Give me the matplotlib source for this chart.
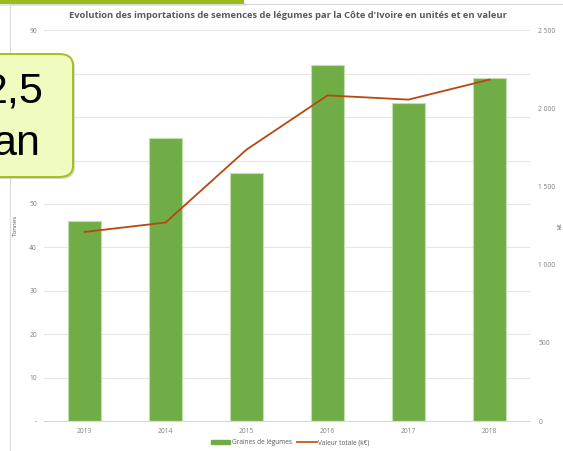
import matplotlib.pyplot as plt
import numpy as np
from matplotlib.patches import FancyBboxPatch, Rectangle
from matplotlib.lines import Line2D

# data
years = ['2013', '2014', '2015', '2016', '2017', '2018']
tonnes = [46.0, 65.1, 57.1, 82.1, 73.2, 79.1]
valeur = [1210, 1270, 1737, 2084, 2057, 2185]
left_ticks = [0, 10, 20, 30, 40, 50, 60, 70, 80, 90]
left_labels = ['-', '10', '20', '30', '40', '50', '60', '70', '80', '90']
right_ticks = [0, 500, 1000, 1500, 2000, 2500]
right_labels = ['0', '500', '1 000', '1 500', '2 000', '2 500']

W, H = 563, 451
fig = plt.figure(figsize=(W / 100, H / 100), dpi=100)
plt.rcParams['font.family'] = ['Open Sans', 'DejaVu Sans']

grey_txt = '#7f7f7f'
grid_c = '#e6e6e6'

ax = fig.add_axes([44 / W, 1 - 421 / H, 486 / W, (421 - 30.4) / H])
x = np.arange(len(years))
ax.bar(x, tonnes, width=0.4, color='#70ad47', edgecolor='#c2e0ad', linewidth=0.8, zorder=2)
ax.set_xlim(-0.5, len(years) - 0.5)
ax.set_ylim(0, 90)
ax.set_yticks(left_ticks)
ax.set_yticklabels(left_labels)
ax.set_xticks(x)
ax.set_xticklabels(years)
ax.grid(axis='y', color=grid_c, linewidth=0.8, zorder=0)
for s in ['top', 'right', 'left']:
    ax.spines[s].set_visible(False)
ax.spines['bottom'].set_color('#d9d9d9')
ax.tick_params(axis='both', length=0, labelsize=4.8, colors=grey_txt, pad=5)
ax.set_ylabel('Tonnes', fontsize=4.5, color='#595959', labelpad=8)

ax2 = ax.twinx()
ax2.plot(x, valeur, color='#b8470f', linewidth=1.3, zorder=3)
ax2.set_ylim(0, 2500)
ax2.set_yticks(right_ticks)
ax2.set_yticklabels(right_labels)
for s in ['top', 'right', 'left', 'bottom']:
    ax2.spines[s].set_visible(False)
ax2.tick_params(axis='y', length=0, labelsize=4.8, colors=grey_txt, pad=6)
ax2.set_ylabel('k€', fontsize=4.5, color='#595959')
ax2.yaxis.set_label_coords((557 - 44) / 486, 0.5)

fig.text(288 / W, 1 - 15 / H,
         "Evolution des importations de semences de légumes par la Côte d'Ivoire en unités et en valeur",
         ha='center', va='center', fontsize=6.75, fontweight='bold', color='#595959')

handles = [Rectangle((0, 0), 1, 1, color='#70ad47'),
           Line2D([0], [0], color='#c55a11', linewidth=1.3)]
fig.legend(handles, ['Graines de légumes', 'Valeur totale (k€)'],
           loc='center', bbox_to_anchor=(290 / W, 1 - 443 / H), ncol=2,
           frameon=False, fontsize=4.7, labelcolor='#595959',
           handlelength=3, handleheight=0.5, columnspacing=0.8, handletextpad=0.2)

# chart frame and slide overlays
fig.add_artist(Line2D([10 / W, 10 / W], [0, 1 - 4 / H], color='#d9d9d9', linewidth=0.8,
                      transform=fig.transFigure))
fig.add_artist(Line2D([10 / W, 1], [1 - 4 / H, 1 - 4 / H], color='#d9d9d9', linewidth=0.8,
                      transform=fig.transFigure))
fig.add_artist(Rectangle((0, 1 - 6 / H), 246 / W, 3 / H, transform=fig.transFigure,
                         facecolor='#e0e0e0', edgecolor='none', alpha=0.8))
fig.add_artist(Rectangle((0, 1 - 3.5 / H), 244 / W, 3.5 / H, transform=fig.transFigure,
                         facecolor='#9bbb1c', edgecolor='none'))

shadow = FancyBboxPatch((-30 / W, 1 - 179 / H), 105 / W, 123 / H,
                        boxstyle='round,pad=0,rounding_size=0.025',
                        transform=fig.transFigure, facecolor='#b0b0b0',
                        edgecolor='none', alpha=0.5, zorder=9)
fig.add_artist(shadow)
box = FancyBboxPatch((-32 / W, 1 - 177 / H), 105 / W, 123 / H,
                     boxstyle='round,pad=0,rounding_size=0.025',
                     transform=fig.transFigure, facecolor='#f0fbc0',
                     edgecolor='#a2c01c', linewidth=1.4, zorder=10)
fig.add_artist(box)
fig.text(44 / W, 1 - 91 / H, '2,5', ha='right', va='center', fontsize=31,
         family='Liberation Sans', color='black', zorder=11)
fig.text(40 / W, 1 - 144 / H, 'an', ha='right', va='center', fontsize=31,
         family='Liberation Sans', color='black', zorder=11)

fig.savefig('out.png', dpi=100)
